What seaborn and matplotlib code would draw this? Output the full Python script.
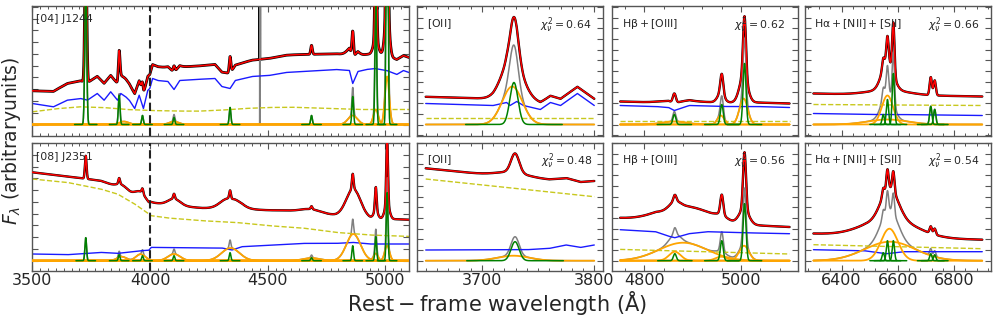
import numpy as np
import matplotlib
matplotlib.use("Agg")
import matplotlib.pyplot as plt
from matplotlib.ticker import MultipleLocator, NullFormatter
import seaborn as sns

sns.set_style("ticks")
plt.rcParams['font.family'] = ['DejaVu Sans']
plt.rcParams['mathtext.fontset'] = 'dejavusans'

# ---------------- data ----------------
# Panel labels
OBJ_LABELS = ["[04] J1244", "[08] J2351"]
CHI2_TOP = [0.64, 0.62, 0.66]
CHI2_BOT = [0.48, 0.56, 0.54]
ZOOM_TITLES = [r"$\mathrm{[OII]}$", r"$\mathrm{H\beta + [OIII]}$", r"$\mathrm{H\alpha + [NII] + [SII]}$"]

# ---- J1244 full spectrum (top-left) ----
TL_RANGE = [3500, 5100]
TL_BLUE_WAVE = [3500, 3548, 3590, 3648, 3705, 3734, 3776, 3805, 3833, 3862, 3876, 3897, 3912, 3935, 3954,
                3972, 3990, 3999, 4011, 4033, 4076, 4102, 4126, 4190, 4276, 4305, 4340, 4362, 4433, 4505,
                4576, 4647, 4719, 4790, 4847, 4861, 4883, 4919, 4955, 5005, 5048, 5076, 5100]
TL_BLUE_FLUX = [21, 19.3, 17.7, 24.3, 26, 24.3, 31, 24.3, 32.7, 24.3, 31, 27.7, 24.3, 16, 29.3,
                16, 34, 36, 46, 44, 43, 35, 44, 45, 46, 38, 36, 44, 48, 49,
                52, 53, 54, 55, 54, 41, 53, 55, 56, 54, 50, 54, 52]
TL_YEL_WAVE = [3500, 3600, 3700, 3800, 3900, 4000, 4100, 4200, 4300, 4400, 4500, 4600, 4700, 4800, 4900, 5000, 5100]
TL_YEL_FLUX = [12.7, 15.7, 17.7, 17, 15, 14, 13.5, 13.3, 14.3, 16, 17, 17.3, 16.5, 15.7, 15, 15, 15]
TL_NARROW_CEN = [3727, 3869, 3968, 4102, 4340, 4686, 4861, 4959, 5007]
TL_NARROW_AMP = [150, 29, 9, 7, 17, 9, 28, 125, 380]
TL_NARROW_SIG = [4, 3.5, 3.5, 3.5, 3.5, 3.5, 3.5, 3.5, 3.5]
TL_BROAD_CEN = [3889, 4102, 4861, 4959, 5007]
TL_BROAD_AMP = [3, 3, 9, 15, 48]
TL_BROAD_SIG = [20, 20, 20, 10, 9]
TL_SPIKE_WAVE = [4466]
TL_SPIKE_AMP = [125]

# ---- J2351 full spectrum (bottom-left) ----
BL_RANGE = [3500, 5100]
BL_BLUE_WAVE = [3500, 3648, 3790, 3862, 3962, 3995, 4005, 4219, 4305, 4348, 4390, 4647, 4790, 4861, 4933, 5100]
BL_BLUE_FLUX = [6.7, 6, 8.3, 7.3, 10, 10.5, 13.3, 12.7, 12.7, 10.7, 14, 17.3, 17.3, 18.3, 16.7, 16.7]
BL_YEL_WAVE = [3500, 3648, 3790, 3862, 3933, 4005, 4076, 4219, 4362, 4505, 4647, 4790, 4933, 5100]
BL_YEL_FLUX = [81.7, 78.3, 71.7, 66.7, 57, 45, 42.7, 40, 38.3, 35, 32.7, 28.3, 25.7, 24.3]
BL_NARROW_CEN = [3727, 3869, 3968, 4102, 4340, 4686, 4861, 4959, 5007]
BL_NARROW_AMP = [23, 6, 5, 5, 8, 3, 15, 24, 68]
BL_NARROW_SIG = [3.5, 3.5, 3.5, 3.5, 3.5, 3.5, 3.5, 3.5, 3.5]
BL_BROAD_CEN = [3880, 3960, 4102, 4342, 4686, 4864, 4959, 5007]
BL_BROAD_AMP = [4, 6.5, 6.7, 12.7, 2.7, 26.7, 7.3, 15]
BL_BROAD_SIG = [20, 20, 26, 38, 35, 30, 9, 10]

# ---- [OII] zoom, J1244 ----
O2T_RANGE = [3650, 3800]
O2T_BLUE_WAVE = [3650, 3680, 3710, 3722, 3725, 3731, 3737, 3752, 3761, 3770, 3785, 3800]
O2T_BLUE_FLUX = [21, 20, 19, 22, 19, 23, 19, 15, 22, 19, 31, 19]
O2T_YEL_WAVE = [3650, 3800]
O2T_YEL_FLUX = [6.7, 6.7]
O2T_NARROW_CEN = [3728.5]
O2T_NARROW_AMP = [42]
O2T_NARROW_SIG = [3.6]
O2T_BROAD_CEN = [3727]
O2T_BROAD_AMP = [38]
O2T_BROAD_SIG = [9]

# ---- [OII] zoom, J2351 ----
O2B_RANGE = [3650, 3800]
O2B_BLUE_WAVE = [3650, 3740, 3760, 3775, 3788, 3800]
O2B_BLUE_FLUX = [10.7, 11, 12.3, 15.7, 13.3, 15.7]
O2B_YEL_WAVE = [3650, 3800]
O2B_YEL_FLUX = [81.7, 64]
O2B_NARROW_CEN = [3729.5]
O2B_NARROW_AMP = [19]
O2B_NARROW_SIG = [3.6]
O2B_BROAD_CEN = [3728]
O2B_BROAD_AMP = [5]
O2B_BROAD_SIG = [14]

# ---- Hbeta + [OIII] zoom, J1244 ----
HBT_RANGE = [4750, 5100]
HBT_BLUE_WAVE = [4750, 4823, 4850, 4862, 4880, 4893, 4962, 5031, 5100]
HBT_BLUE_FLUX = [19, 18, 17, 14, 17, 19, 18, 18, 17]
HBT_YEL_WAVE = [4750, 5100]
HBT_YEL_FLUX = [4, 4]
HBT_NARROW_CEN = [4862, 4960, 5007]
HBT_NARROW_AMP = [10, 20, 61]
HBT_NARROW_SIG = [3, 3, 3]
HBT_BROAD_CEN = [4862, 4958, 5005]
HBT_BROAD_AMP = [3, 9, 26]
HBT_BROAD_SIG = [25, 7, 8.5]

# ---- Hbeta + [OIII] zoom, J2351 ----
HBB_RANGE = [4750, 5100]
HBB_BLUE_WAVE = [4750, 4823, 4850, 4863, 4892, 4930, 5000, 5100]
HBB_BLUE_FLUX = [31, 29, 24.5, 23, 27, 29, 28, 27]
HBB_YEL_WAVE = [4750, 5100]
HBB_YEL_FLUX = [11.3, 6.7]
HBB_NARROW_CEN = [4863, 4960, 5007]
HBB_NARROW_AMP = [7, 20, 57]
HBB_NARROW_SIG = [3, 3, 3]
HBB_BROAD_CEN = [4863, 4880, 4959, 5006]
HBB_BROAD_AMP = [9, 18, 4, 15]
HBB_BROAD_SIG = [12, 50, 12, 10]

# ---- Halpha + [NII] + [SII] zoom, J1244 ----
HAT_RANGE = [6300, 6900]
HAT_BLUE_WAVE = [6300, 6500, 6600, 6900]
HAT_BLUE_FLUX = [11, 10, 10, 9]
HAT_YEL_WAVE = [6300, 6900]
HAT_YEL_FLUX = [20, 19]
HAT_NARROW_CEN = [6548, 6563, 6584, 6717, 6731]
HAT_NARROW_AMP = [10, 25, 51, 18, 15]
HAT_NARROW_SIG = [4, 4, 4, 4, 4]
HAT_BROAD_CEN = [6563, 6563]
HAT_BROAD_AMP = [29, 5]
HAT_BROAD_SIG = [20, 70]

# ---- Halpha + [NII] + [SII] zoom, J2351 ----
HAB_RANGE = [6300, 6900]
HAB_BLUE_WAVE = [6300, 6480, 6530, 6560, 6620, 6900]
HAB_BLUE_FLUX = [11, 10, 8, 7, 9, 9]
HAB_YEL_WAVE = [6300, 6900]
HAB_YEL_FLUX = [16, 12]
HAB_NARROW_CEN = [6548, 6563, 6584, 6717, 6731]
HAB_NARROW_AMP = [8, 20, 20, 7, 6]
HAB_NARROW_SIG = [4, 4, 4, 4, 4]
HAB_BROAD_CEN = [6570, 6572]
HAB_BROAD_AMP = [32, 19]
HAB_BROAD_SIG = [30, 90]

# ---------------- figure layout ----------------
W, H = 997, 320
fig = plt.figure(figsize=(W / 100, H / 100), dpi=100)

def add_ax(x0, x1, ytop, ybot):
    return fig.add_axes([x0 / W, 1 - ybot / H, (x1 - x0) / W, (ybot - ytop) / H])

cols = [(32.3, 409.0), (417.3, 602.7), (611.7, 798.0), (805.0, 990.7)]
rows = [(6.0, 136.0), (142.7, 271.0)]
axes = [[add_ax(c[0], c[1], r[0], r[1]) for c in cols] for r in rows]

SPINE = '#555555'

def gauss(w, c, a, s):
    return a * np.exp(-0.5 * ((w - c) / s) ** 2)

def line(ax, x, y, color, lw, z, ls='-'):
    sns.lineplot(x=x, y=y, ax=ax, color=color, linewidth=lw, zorder=z,
                 linestyle=ls, estimator=None, legend=False)

def draw_panel(ax, rng, bw, bf, yw, yf, nc, na, ns, bc, ba, bs,
               spike_w=(), spike_a=(), black_lw=1.7):
    wave = np.arange(rng[0], rng[1] + 0.25, 0.5)
    blue = np.interp(wave, bw, bf)
    yel = np.interp(wave, yw, yf)
    narrow = [gauss(wave, c, a, s) for c, a, s in zip(nc, na, ns)]
    broad = [gauss(wave, c, a, s) for c, a, s in zip(bc, ba, bs)]
    lines_sum = np.sum(narrow + broad, axis=0)
    model = blue + yel + lines_sum
    data = model.copy()
    resid = lines_sum.copy()
    for sw, sa in zip(spike_w, spike_a):
        i = np.argmin(np.abs(wave - sw))
        data[i] += sa
        resid[i] += sa
    line(ax, wave, data, 'black', black_lw, 2)
    line(ax, wave, model, '#ff0000', 1.1, 3)
    line(ax, wave, resid, '#808080', 1.1, 2)
    line(ax, wave, blue, '#1a1aff', 1.0, 2)
    line(ax, wave, yel, '#c8c81e', 1.0, 2, ls='--')
    for g in broad:
        line(ax, wave, g, '#ffa500', 1.3, 4)
    for (c, a, s), g in zip(zip(nc, na, ns), narrow):
        m = (wave > c - 12 * s) & (wave < c + 12 * s)
        line(ax, wave[m], g[m], '#008000', 1.1, 5)

# top row
draw_panel(axes[0][0], TL_RANGE, TL_BLUE_WAVE, TL_BLUE_FLUX, TL_YEL_WAVE, TL_YEL_FLUX,
           TL_NARROW_CEN, TL_NARROW_AMP, TL_NARROW_SIG, TL_BROAD_CEN, TL_BROAD_AMP, TL_BROAD_SIG,
           TL_SPIKE_WAVE, TL_SPIKE_AMP, black_lw=2.0)
draw_panel(axes[0][1], O2T_RANGE, O2T_BLUE_WAVE, O2T_BLUE_FLUX, O2T_YEL_WAVE, O2T_YEL_FLUX,
           O2T_NARROW_CEN, O2T_NARROW_AMP, O2T_NARROW_SIG, O2T_BROAD_CEN, O2T_BROAD_AMP, O2T_BROAD_SIG)
draw_panel(axes[0][2], HBT_RANGE, HBT_BLUE_WAVE, HBT_BLUE_FLUX, HBT_YEL_WAVE, HBT_YEL_FLUX,
           HBT_NARROW_CEN, HBT_NARROW_AMP, HBT_NARROW_SIG, HBT_BROAD_CEN, HBT_BROAD_AMP, HBT_BROAD_SIG)
draw_panel(axes[0][3], HAT_RANGE, HAT_BLUE_WAVE, HAT_BLUE_FLUX, HAT_YEL_WAVE, HAT_YEL_FLUX,
           HAT_NARROW_CEN, HAT_NARROW_AMP, HAT_NARROW_SIG, HAT_BROAD_CEN, HAT_BROAD_AMP, HAT_BROAD_SIG)
# bottom row
draw_panel(axes[1][0], BL_RANGE, BL_BLUE_WAVE, BL_BLUE_FLUX, BL_YEL_WAVE, BL_YEL_FLUX,
           BL_NARROW_CEN, BL_NARROW_AMP, BL_NARROW_SIG, BL_BROAD_CEN, BL_BROAD_AMP, BL_BROAD_SIG)
draw_panel(axes[1][1], O2B_RANGE, O2B_BLUE_WAVE, O2B_BLUE_FLUX, O2B_YEL_WAVE, O2B_YEL_FLUX,
           O2B_NARROW_CEN, O2B_NARROW_AMP, O2B_NARROW_SIG, O2B_BROAD_CEN, O2B_BROAD_AMP, O2B_BROAD_SIG)
draw_panel(axes[1][2], HBB_RANGE, HBB_BLUE_WAVE, HBB_BLUE_FLUX, HBB_YEL_WAVE, HBB_YEL_FLUX,
           HBB_NARROW_CEN, HBB_NARROW_AMP, HBB_NARROW_SIG, HBB_BROAD_CEN, HBB_BROAD_AMP, HBB_BROAD_SIG)
draw_panel(axes[1][3], HAB_RANGE, HAB_BLUE_WAVE, HAB_BLUE_FLUX, HAB_YEL_WAVE, HAB_YEL_FLUX,
           HAB_NARROW_CEN, HAB_NARROW_AMP, HAB_NARROW_SIG, HAB_BROAD_CEN, HAB_BROAD_AMP, HAB_BROAD_SIG)

# axis limits and ticks
xlims = [(3500, 5100), (3642.5, 3807.5), (4732.5, 5117.5), (6270, 6930)]
xmaj = [500, 100, 200, 200]
xmin = [100 / 3, 10, 40, 40]
ylims = [(-11.5, 118.5), (-10.3, 118.0)]
ystep = [11.77, 10.7, 10.7, 10.7]
for r in range(2):
    for c in range(4):
        ax = axes[r][c]
        ax.set_xlim(*xlims[c])
        ax.set_ylim(*ylims[r])
        ax.xaxis.set_major_locator(MultipleLocator(xmaj[c]))
        ax.xaxis.set_minor_locator(MultipleLocator(xmin[c]))
        ax.yaxis.set_major_locator(MultipleLocator(ystep[c]))
        ax.yaxis.set_major_formatter(NullFormatter())
        ax.tick_params(which='both', direction='in', top=True, right=True, color=SPINE)
        ax.tick_params(which='major', length=4, width=0.8, labelsize=11.5, pad=1.5)
        ax.tick_params(which='minor', length=2.2, width=0.7)
        ax.set_xlabel('')
        ax.set_ylabel('')
        for s in ax.spines.values():
            s.set_color(SPINE)
            s.set_linewidth(1.0)
        if r == 0:
            ax.xaxis.set_major_formatter(NullFormatter())

# vertical dashed line at 4000 A
for r in range(2):
    axes[r][0].axvline(4000, color='#222222', linestyle=(0, (4, 2)), linewidth=1.5, zorder=6)

# annotations
axes[0][0].text(0.01, 0.90, OBJ_LABELS[0], transform=axes[0][0].transAxes, fontsize=7.8, va='center', ha='left', zorder=10)
axes[1][0].text(0.01, 0.889, OBJ_LABELS[1], transform=axes[1][0].transAxes, fontsize=7.8, va='center', ha='left', zorder=10)
title_x = [0.052, 0.055, 0.048]
chi_x = [0.942, 0.93, 0.937]
for k in range(3):
    for r, chis in enumerate([CHI2_TOP, CHI2_BOT]):
        ax = axes[r][k + 1]
        ax.text(title_x[k], 0.862, ZOOM_TITLES[k], transform=ax.transAxes, fontsize=7.8,
                va='center', ha='left', zorder=10)
        ax.text(chi_x[k], 0.855, r"$\chi^2_\nu = %.2f$" % chis[k], transform=ax.transAxes,
                fontsize=7.8, va='center', ha='right', zorder=10)

fig.text(497 / W, 1 - 303 / H, r"$\mathrm{Rest-frame\ wavelength\ (Å)}$", fontsize=15,
         ha='center', va='center')
fig.text(12 / W, 1 - 141 / H, r"$F_{\lambda}\ \mathrm{(arbitrary units)}$", fontsize=13.5,
         ha='center', va='center', rotation=90)

fig.savefig('out.png', dpi=100)
